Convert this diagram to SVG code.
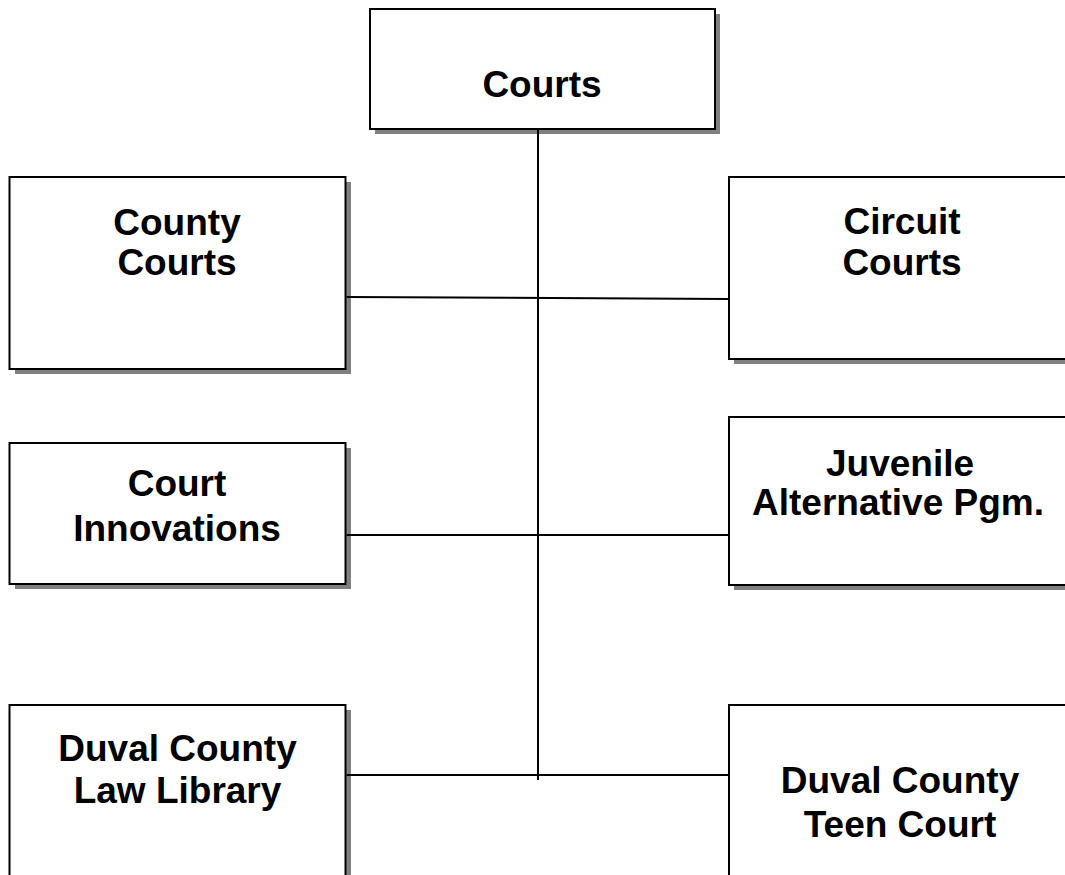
<svg xmlns="http://www.w3.org/2000/svg" width="1065" height="875" viewBox="0 0 1065 875">
<style>
.shadow{fill:#808080;stroke:none}
.box{fill:#ffffff;stroke:#000000;stroke-width:2}
.lbl{font-family:"Liberation Sans",Arial,sans-serif;font-weight:bold;font-size:37px;fill:#000000;text-anchor:middle}
.conn{stroke:#000000;stroke-width:2;fill:none}
</style>
<rect width="1065" height="875" fill="#ffffff"/>
<g id="courts">
<rect class="shadow" x="375" y="14" width="345" height="120"/>
<rect class="box" x="370" y="9" width="345" height="120"/>
<text class="lbl" x="542" y="97">Courts</text>
</g>
<g id="county-courts">
<rect class="shadow" x="15" y="182" width="336" height="192"/>
<rect class="box" x="9.5" y="177" width="336" height="192"/>
<text class="lbl" x="177" y="235">County</text>
<text class="lbl" x="177" y="275">Courts</text>
</g>
<g id="circuit-courts">
<rect class="shadow" x="734" y="182" width="345" height="182"/>
<rect class="box" x="729" y="177" width="345" height="182"/>
<text class="lbl" x="902" y="234">Circuit</text>
<text class="lbl" x="902" y="275">Courts</text>
</g>
<g id="court-innovations">
<rect class="shadow" x="15" y="448" width="336" height="141"/>
<rect class="box" x="9.5" y="443" width="336" height="141"/>
<text class="lbl" x="177" y="496">Court</text>
<text class="lbl" x="177" y="541">Innovations</text>
</g>
<g id="juvenile">
<rect class="shadow" x="734" y="422" width="345" height="168"/>
<rect class="box" x="729" y="417" width="345" height="168"/>
<text class="lbl" x="900" y="476">Juvenile</text>
<text class="lbl" x="898" y="515">Alternative Pgm.</text>
</g>
<g id="law-library">
<rect class="shadow" x="15" y="710" width="336" height="200"/>
<rect class="box" x="9.5" y="705" width="336" height="200"/>
<text class="lbl" x="177.5" y="761">Duval County</text>
<text class="lbl" x="177.5" y="803">Law Library</text>
</g>
<g id="teen-court">
<rect class="shadow" x="734" y="710" width="345" height="200"/>
<rect class="box" x="729" y="705" width="345" height="200"/>
<text class="lbl" x="900" y="793">Duval County</text>
<text class="lbl" x="900" y="837">Teen Court</text>
</g>
<g id="connectors">
<line class="conn" x1="538" y1="130" x2="538" y2="780"/>
<line class="conn" x1="346.5" y1="297" x2="728" y2="299"/>
<line class="conn" x1="346.5" y1="535" x2="728" y2="535"/>
<line class="conn" x1="346.5" y1="775" x2="728" y2="775"/>
</g>
</svg>
